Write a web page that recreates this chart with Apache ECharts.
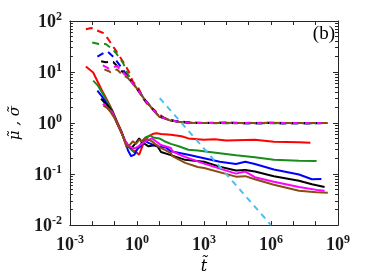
<!DOCTYPE html>
<html><head><meta charset="utf-8">
<script src="https://cdn.jsdelivr.net/npm/echarts@6/dist/echarts.min.js"></script>
<style>html,body{margin:0;padding:0;background:#fff}#c{width:374px;height:280px}</style>
</head><body><div id="c"></div>
<script>
// ---- tick values ----
const xMajorTicks = [1e-3,1e-2,1e-1,1,1e1,1e2,1e3,1e4,1e5,1e6,1e7,1e8,1e9];
const xLabelTicks = [1e-3,1,1e3,1e6,1e9];
const yMajorTicks = [1e-2,1e-1,1,1e1,1e2];
const yMinorTicks = [];
for (let d = -2; d < 2; d++) for (let k = 2; k <= 9; k++) yMinorTicks.push(k * Math.pow(10, d));

// ---- mu (solid) series: [t, value] ----
const muRed = [[0.0052,12.8],[0.011,9.8],[0.018,6.3],[0.03,4.0],[0.048,2.75],[0.078,1.78],[0.13,1.07],[0.21,0.66],[0.29,0.45],[0.4,0.37],[0.63,0.3],[1.0,0.26],[1.26,0.24],[1.74,0.35],[2.4,0.48],[3.3,0.55],[5.5,0.62],[7.6,0.63],[12,0.61],[33,0.59],[100,0.55],[200,0.5],[1000,0.47],[3000,0.48],[1e4,0.455],[2.7e4,0.46],[1.9e5,0.47],[1.35e6,0.43],[1.8e7,0.42],[5.8e7,0.41]];
const muGreen = [[0.011,6.8],[0.018,5.4],[0.03,3.7],[0.048,2.57],[0.078,1.75],[0.13,1.02],[0.21,0.645],[0.29,0.45],[0.4,0.36],[0.55,0.3],[0.78,0.265],[0.91,0.257],[1.26,0.33],[1.74,0.45],[2.4,0.52],[4.0,0.57],[5.5,0.52],[10,0.5],[17,0.44],[33,0.39],[74,0.35],[200,0.3],[525,0.29],[5100,0.257],[2.7e4,0.234],[1.9e5,0.214],[1.35e6,0.19],[1.8e7,0.182],[1.1e8,0.18]];
const muBlue = [[0.017,4.3],[0.025,3.5],[0.04,2.57],[0.063,1.8],[0.1,1.3],[0.13,1.0],[0.21,0.64],[0.29,0.44],[0.4,0.29],[0.55,0.224],[0.78,0.24],[1.07,0.324],[1.48,0.35],[2.04,0.468],[3.3,0.41],[7.6,0.35],[20,0.33],[33,0.28],[200,0.24],[5100,0.174],[2.7e4,0.158],[7.1e4,0.174],[1.9e5,0.158],[1.35e6,0.123],[1.8e7,0.098],[6.8e7,0.079],[1.8e8,0.08]];
const muBlack = [[0.025,3.0],[0.035,2.55],[0.05,2.2],[0.078,1.7],[0.13,1.0],[0.21,0.63],[0.29,0.45],[0.4,0.36],[0.55,0.32],[0.66,0.3],[0.91,0.41],[1.26,0.5],[1.74,0.42],[3.3,0.35],[7.6,0.37],[12,0.27],[33,0.235],[145,0.19],[1000,0.175],[5000,0.14],[2.7e4,0.117],[7.1e4,0.12],[1.9e5,0.112],[1.35e6,0.091],[1.8e7,0.074],[6.8e7,0.063],[2.5e8,0.056]];
const muMagenta = [[0.03,2.4],[0.05,1.95],[0.078,1.65],[0.13,1.0],[0.21,0.63],[0.29,0.45],[0.4,0.37],[0.55,0.33],[0.78,0.32],[1.07,0.34],[1.48,0.38],[2.4,0.437],[4.7,0.5],[7.6,0.43],[12,0.37],[33,0.324],[39,0.28],[100,0.23],[1000,0.16],[2.7e4,0.102],[7.1e4,0.112],[1.9e5,0.087],[1.35e6,0.071],[1.8e7,0.056],[1.1e8,0.049],[2.5e8,0.047]];
const muBrown = [[0.032,2.2],[0.048,1.95],[0.066,1.65],[0.1,1.25],[0.13,0.98],[0.21,0.63],[0.29,0.42],[0.34,0.34],[0.47,0.37],[0.66,0.44],[0.91,0.39],[1.26,0.468],[1.74,0.44],[2.4,0.5],[4.7,0.437],[8.9,0.347],[17,0.3],[33,0.257],[39,0.224],[145,0.166],[525,0.138],[1020,0.132],[2.7e4,0.089],[7.1e4,0.091],[1.9e5,0.079],[1.35e6,0.062],[1.8e7,0.047],[1.1e8,0.044],[3.5e8,0.043]];

// ---- sigma (dashed) series: [t, value] ----
const sigRed = [[0.0052,69],[0.009,73],[0.02,63],[0.035,57],[0.06,40],[0.107,27.5],[0.17,20],[0.25,15.5],[0.42,10.5],[0.68,6.3],[1.1,5.1],[2.0,2.95],[3.2,2.2],[5.2,1.9],[8.7,1.55],[20,1.2],[50,1.1],[200,1.04],[1000,1.01],[1e4,1.03],[1e5,1.0],[1e6,1.02],[1e7,1.0],[5.8e7,1.0]];
const sigGreen = [[0.01,38],[0.02,35.5],[0.04,35.5],[0.07,29.5],[0.107,24.5],[0.166,19],[0.25,14.5],[0.4,8.9],[0.91,5.0],[2.4,2.8],[6.5,1.67],[10,1.34],[17,1.25],[28,1.14],[74,1.06],[250,1.01],[1e3,1.0],[1e4,0.99],[1e5,1.01],[1e6,0.99],[1e7,1.0],[1.1e8,0.99]];
const sigBlue = [[0.017,20],[0.032,23.5],[0.05,25],[0.087,20],[0.178,13.2],[0.29,9.8],[0.5,7],[0.91,5.0],[2.4,2.75],[6.5,1.65],[10,1.33],[17,1.25],[28,1.14],[74,1.06],[250,1.01],[1e3,1.0],[1e4,1.01],[1e5,0.99],[1e6,1.0],[1e7,0.99],[1.8e8,1.0]];
const sigBlack = [[0.025,16.2],[0.04,15.5],[0.063,16],[0.087,15.7],[0.178,11.3],[0.4,7.8],[0.91,5.0],[2.4,2.75],[6.5,1.65],[10,1.33],[17,1.25],[28,1.14],[74,1.06],[250,1.01],[1e3,1.0],[1e4,1.0],[1e5,0.99],[1e6,1.0],[1e7,0.99],[2.5e8,0.99]];
const sigMagenta = [[0.03,13.5],[0.056,11.7],[0.13,13.2],[0.178,11.2],[0.4,7.8],[0.91,5.0],[2.4,2.75],[6.5,1.65],[10,1.33],[17,1.25],[28,1.14],[74,1.06],[250,1.01],[1e3,1.0],[1e4,1.0],[1e5,1.0],[1e6,1.0],[1e7,1.0],[2.5e8,1.0]];
const sigBrown = [[0.035,11.3],[0.066,10],[0.13,11.2],[0.21,9.1],[0.4,7.6],[0.91,5.0],[2.4,2.75],[6.5,1.65],[10,1.33],[17,1.25],[28,1.14],[74,1.06],[250,1.01],[1e3,1.0],[1e4,1.01],[1e5,1.0],[1e6,1.01],[1e7,1.0],[3.5e8,1.0]];

// ---- reference slope line ----
const refLine = [[10.5,3.09],[1e6,0.01]];

const colors = {red:'#ff0000', green:'#1a8c1a', blue:'#0000ff', black:'#000000', magenta:'#ff00ff', brown:'#8c4a14', cyan:'#4dbeee'};

const chart = echarts.init(document.getElementById('c'), null, {renderer:'canvas'});
const serif = '"Liberation Serif","Times New Roman",serif';
const rich = {
  b:{fontFamily:serif,fontWeight:'bold',fontSize:18,color:'#1a1a1a',verticalAlign:'bottom'},
  s:{fontFamily:serif,fontWeight:'bold',fontSize:12,color:'#1a1a1a',verticalAlign:'bottom',padding:[0,0,8,0]}
};
function fmt(v){ const e = Math.round(Math.log10(v)); return '{b|10}{s|' + e + '}'; }
const axLine = {show:true, lineStyle:{color:'#262626', width:1}};

function sol(data, c){ return {type:'line', data, showSymbol:false, symbol:'none', lineStyle:{color:c, width:2}, z:3}; }
function dsh(data, c){ return {type:'line', data, showSymbol:false, symbol:'none', lineStyle:{color:c, width:2, type:[7,5]}, z:2}; }

chart.setOption({
  animation:false,
  title:{text:'(b)', right:39, top:25, padding:0, textStyle:{fontFamily:serif, fontSize:19, fontWeight:'normal', color:'#000'}},
  grid:{left:55, top:21, width:283, height:207},
  xAxis:[
    {type:'log', logBase:10, min:1e-3, max:1e9, position:'bottom',
     axisLine:axLine, splitLine:{show:false},
     axisTick:{show:true, inside:true, length:4, customValues:xMajorTicks, lineStyle:{color:'#262626'}},
     axisLabel:{customValues:xLabelTicks, formatter:fmt, rich, margin:9},
     name:'t\u0303', nameLocation:'middle', nameGap:33,
     nameTextStyle:{fontFamily:'"DejaVu Serif",serif', fontStyle:'italic', fontSize:16, color:'#000'}},
    {type:'log', logBase:10, min:1e-3, max:1e9, position:'top',
     axisLine:axLine, splitLine:{show:false}, axisLabel:{show:false},
     axisTick:{show:true, inside:true, length:4, customValues:xMajorTicks, lineStyle:{color:'#262626'}}}
  ],
  yAxis:[
    {type:'log', logBase:10, min:1e-2, max:1e2, position:'left',
     axisLine:axLine, splitLine:{show:false},
     axisTick:{show:true, inside:true, length:5, customValues:yMajorTicks, lineStyle:{color:'#262626'}},
     axisLabel:{customValues:yMajorTicks, formatter:fmt, rich, margin:8},
     name:'\u03bc\u0303 , \u03c3\u0303', nameLocation:'middle', nameGap:41,
     nameTextStyle:{fontFamily:'"DejaVu Serif",serif', fontStyle:'italic', fontSize:15, color:'#000'}},
    {type:'log', logBase:10, min:1e-2, max:1e2, position:'left',
     axisLine:{show:false}, splitLine:{show:false}, axisLabel:{show:false},
     axisTick:{show:true, inside:true, length:3, customValues:yMinorTicks, lineStyle:{color:'#262626'}}},
    {type:'log', logBase:10, min:1e-2, max:1e2, position:'right',
     axisLine:axLine, splitLine:{show:false}, axisLabel:{show:false},
     axisTick:{show:true, inside:true, length:5, customValues:yMajorTicks, lineStyle:{color:'#262626'}}},
    {type:'log', logBase:10, min:1e-2, max:1e2, position:'right',
     axisLine:{show:false}, splitLine:{show:false}, axisLabel:{show:false},
     axisTick:{show:true, inside:true, length:3, customValues:yMinorTicks, lineStyle:{color:'#262626'}}}
  ],
  series:[
    dsh(sigRed, colors.red), dsh(sigGreen, colors.green), dsh(sigBlue, colors.blue),
    dsh(sigBlack, colors.black), dsh(sigMagenta, colors.magenta), dsh(sigBrown, colors.brown),
    sol(muRed, colors.red), sol(muGreen, colors.green), sol(muBlue, colors.blue),
    sol(muBlack, colors.black), sol(muMagenta, colors.magenta), sol(muBrown, colors.brown),
    {type:'line', data:refLine, showSymbol:false, symbol:'none', lineStyle:{color:colors.cyan, width:2, type:[6,5]}, z:4}
  ]
});
</script></body></html>
